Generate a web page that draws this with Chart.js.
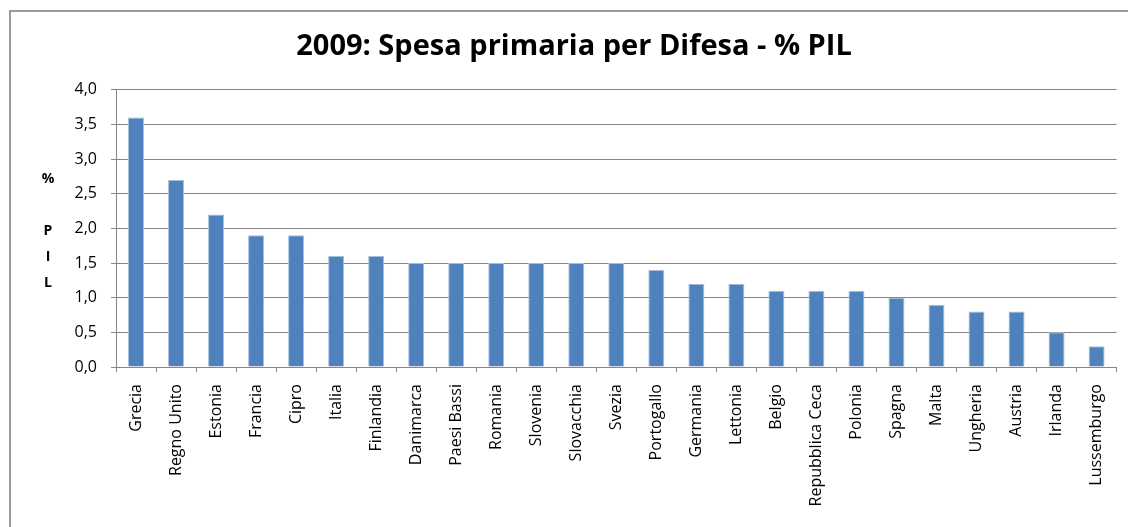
<!DOCTYPE html>
<html>
<head>
<meta charset="utf-8">
<title>2009: Spesa primaria per Difesa - % PIL</title>
<script src="https://cdn.jsdelivr.net/npm/chart.js@4.4.1/dist/chart.umd.min.js"></script>
<style>
  html, body { margin: 0; padding: 0; background: #fff; overflow: hidden; }
  #wrap { position: relative; width: 1128px; height: 527px; }
  #frame {
    position: absolute; left: 9px; top: 10px; width: 1300px; height: 700px;
    border-top: 2px solid #9a9a9a; border-left: 2px solid #9a9a9a;
    pointer-events: none;
  }
</style>
</head>
<body>
<div id="wrap">
  <canvas id="barChart"></canvas>
  <div id="frame"></div>
</div>
<script>
// chart data
const countries = ['Grecia', 'Regno Unito', 'Estonia', 'Francia', 'Cipro', 'Italia', 'Finlandia',
    'Danimarca', 'Paesi Bassi', 'Romania', 'Slovenia', 'Slovacchia', 'Svezia', 'Portogallo',
    'Germania', 'Lettonia', 'Belgio', 'Repubblica Ceca', 'Polonia', 'Spagna', 'Malta',
    'Ungheria', 'Austria', 'Irlanda', 'Lussemburgo'];
const spesaDifesa = [3.6, 2.7, 2.2, 1.9, 1.9, 1.6, 1.6, 1.5, 1.5, 1.5, 1.5, 1.5, 1.5, 1.4,
    1.2, 1.2, 1.1, 1.1, 1.1, 1.0, 0.9, 0.8, 0.8, 0.5, 0.3];
const yMin = 0, yMax = 4, yStep = 0.5;
const titleText = '2009: Spesa primaria per Difesa - % PIL';
const yTitleLines = ['%', '', 'P', 'I', 'L'];

const FONT = "'Open Sans', 'Noto Sans', sans-serif";
const gridColor = '#868686';

// y axis title drawn upright, one letter per line
const yTitlePlugin = {
    id: 'yTitle',
    afterDraw(chart) {
        const ctx = chart.ctx;
        const area = chart.chartArea;
        const mid = (area.top + area.bottom) / 2 + 3;
        ctx.save();
        ctx.font = 'bold 14px ' + FONT;
        ctx.fillStyle = '#000';
        ctx.textAlign = 'center';
        ctx.textBaseline = 'middle';
        yTitleLines.forEach((t, i) => {
            ctx.fillText(t, 48, mid + (i - 2) * 26);
        });
        ctx.restore();
    }
};

const ctx = document.getElementById('barChart').getContext('2d');

const barChart = new Chart(ctx, {
    type: 'bar',
    data: {
        labels: countries,
        datasets: [{
            label: '% PIL',
            data: spesaDifesa,
            backgroundColor: '#4f81bd',
            borderColor: '#a8bfdc',
            borderWidth: 1,
            barPercentage: 0.4,
            categoryPercentage: 1.0
        }]
    },
    options: {
        responsive: true,
        maintainAspectRatio: false,
        animation: false,
        layout: { padding: { left: 30, right: 10, top: 0, bottom: 0 } },
        plugins: {
            legend: { display: false },
            tooltip: { enabled: false },
            title: {
                display: true,
                text: titleText,
                color: '#000',
                font: { family: FONT, size: 29, weight: 'bold' },
                padding: { top: 29, bottom: 26 }
            }
        },
        scales: {
            x: {
                grid: {
                    display: true,
                    drawOnChartArea: false,
                    drawTicks: true,
                    tickLength: 5,
                    color: gridColor,
                    offset: true
                },
                border: { color: gridColor, width: 1 },
                ticks: {
                    autoSkip: false,
                    minRotation: 90,
                    maxRotation: 90,
                    padding: 12,
                    color: '#000',
                    font: { family: FONT, size: 16 }
                },
                afterFit(scale) { scale.height = 160; }
            },
            y: {
                min: yMin,
                max: yMax,
                grid: {
                    color: gridColor,
                    lineWidth: 1,
                    drawTicks: true,
                    tickLength: 5
                },
                border: { color: gridColor, width: 1 },
                ticks: {
                    stepSize: yStep,
                    padding: 14,
                    color: '#000',
                    font: { family: FONT, size: 16 },
                    callback: v => v.toFixed(1).replace('.', ',')
                },
                afterFit(scale) { scale.width = 86; }
            }
        }
    },
    plugins: [yTitlePlugin]
});
</script>
</body>
</html>
